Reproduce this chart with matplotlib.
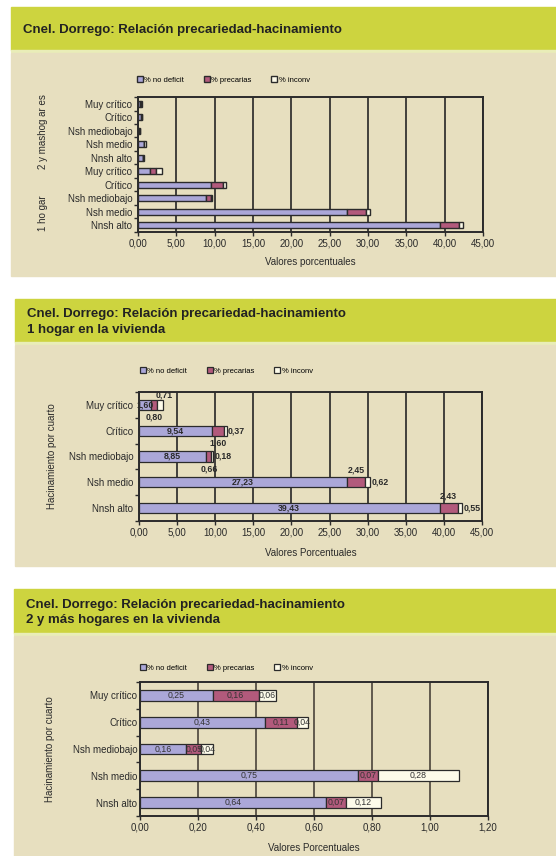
import matplotlib.pyplot as plt
from matplotlib.patches import Rectangle
from matplotlib.ticker import FixedLocator, FuncFormatter
import numpy as np

plt.rcParams['font.family'] = ['Liberation Sans', 'DejaVu Sans']

# datos
categorias = ["Muy crítico", "Crítico", "Nsh mediobajo", "Nsh medio", "Nnsh alto"]
series = ["% no deficit", "% precarias", "% inconv"]

# 1 hogar en la vivienda
uno_no_def = [1.60, 9.54, 8.85, 27.23, 39.43]
uno_prec = [0.80, 1.60, 0.66, 2.45, 2.43]
uno_inconv = [0.71, 0.37, 0.18, 0.62, 0.55]

# 2 y mas hogares en la vivienda
dos_no_def = [0.25, 0.43, 0.16, 0.75, 0.64]
dos_prec = [0.16, 0.11, 0.05, 0.07, 0.07]
dos_inconv = [0.06, 0.04, 0.04, 0.28, 0.12]

titulo = "Cnel. Dorrego: Relación precariedad-hacinamiento"

# colores
C_NODEF = "#aba7d8"
C_PREC = "#b25a7c"
C_INCONV = "#fdfbea"
C_BEIGE = "#e7dfbf"
C_VERDE = "#cdd43f"
C_EDGE = "#2b2b2b"

W, H = 556, 856
fig = plt.figure(figsize=(W / 100, H / 100), dpi=100)
fig.patch.set_facecolor("white")


def box(l, t, r, b):
    return [l / W, 1 - b / H, (r - l) / W, (b - t) / H]


def fondo(x0, top, mid, bottom, lineas):
    # banda verde del titulo + panel beige
    fig.patches.append(Rectangle((x0 / W, 1 - mid / H), 1 - x0 / W, (mid - top) / H,
                                 transform=fig.transFigure, color=C_VERDE, zorder=-10))
    fig.patches.append(Rectangle((x0 / W, 1 - (mid + 1.5) / H), 1 - x0 / W, 1.2 / H,
                                 transform=fig.transFigure, color="#e9edb8", zorder=-10))
    fig.patches.append(Rectangle((x0 / W, 1 - bottom / H), 1 - x0 / W, (bottom - mid - 3) / H,
                                 transform=fig.transFigure, color=C_BEIGE, zorder=-10))
    fig.text((x0 + 12) / W, 1 - ((top + mid) / 2 + 1.5) / H, lineas, ha="left", va="center",
             fontsize=9.5, fontweight="bold", color="#222222", linespacing=1.35)


def fmt(v):
    return f"{v:.2f}".replace(".", ",")


def barras(ax, nodef, prec, inconv, alto, lw=0.9):
    y = np.arange(len(nodef))
    nodef = np.array(nodef)
    prec = np.array(prec)
    inconv = np.array(inconv)
    b1 = ax.barh(y, nodef, height=alto, color=C_NODEF, edgecolor=C_EDGE, lw=lw, zorder=3)
    b2 = ax.barh(y, prec, left=nodef, height=alto, color=C_PREC, edgecolor=C_EDGE, lw=lw, zorder=3)
    b3 = ax.barh(y, inconv, left=nodef + prec, height=alto, color=C_INCONV, edgecolor=C_EDGE, lw=lw, zorder=3)
    return y, (b1, b2, b3)


def estilo_ejes(ax, xmax, paso, ylabels, grid_color, ypad=4):
    n = len(ylabels)
    ax.set_facecolor("none")
    ax.set_xlim(0, xmax)
    ax.set_ylim(n - 0.5, -0.5)
    ax.set_xticks(np.arange(0, xmax + paso / 2, paso))
    ax.xaxis.set_major_formatter(FuncFormatter(lambda v, _: fmt(v)))
    ax.set_yticks(np.arange(n))
    ax.set_yticklabels(ylabels)
    ax.yaxis.set_minor_locator(FixedLocator(np.arange(n + 1) - 0.5))
    ax.tick_params(axis="y", which="major", length=0, pad=ypad, labelsize=7, colors="#2a2a2a")
    ax.tick_params(axis="y", which="minor", length=3, width=1, color=C_EDGE)
    ax.tick_params(axis="x", length=3, width=1, color=C_EDGE, pad=2, labelsize=7, labelcolor="#2a2a2a")
    ax.set_axisbelow(True)
    ax.grid(axis="x", color=grid_color, lw=1.2, zorder=0)
    for s in ax.spines.values():
        s.set_linewidth(1.4)
        s.set_color(C_EDGE)


def leyenda(handles, x, y):
    fig.legend(handles, series, loc="center left", bbox_to_anchor=(x / W, 1 - y / H),
               ncol=3, frameon=False, fontsize=5.5, handlelength=0.75, handleheight=0.75,
               handletextpad=0.2, columnspacing=2.6, borderaxespad=0, borderpad=0)


# ---------------- Panel 1 ----------------
fondo(11, 7, 50, 276, titulo)
ax1 = fig.add_axes(box(138, 97, 483, 232))
etiquetas1 = categorias + categorias
y1, h1 = barras(ax1, dos_no_def + uno_no_def, dos_prec + uno_prec,
                dos_inconv + uno_inconv, 0.42, lw=1.0)
estilo_ejes(ax1, 45, 5, etiquetas1, "#262626")
ax1.set_xlabel("Valores porcentuales", fontsize=7, color="#2a2a2a", labelpad=6)
fig.text(43 / W, 1 - 132 / H, "2 y mashog ar es", rotation=90, ha="center", va="center",
         fontsize=7, color="#2a2a2a")
fig.text(43 / W, 1 - 213 / H, "1 ho gar", rotation=90, ha="center", va="center",
         fontsize=7, color="#2a2a2a")
leyenda(h1, 137, 80)

# ---------------- Panel 2 ----------------
fondo(15, 299, 342, 566, titulo + "\n1 hogar en la vivienda")
ax2 = fig.add_axes(box(139, 392, 482, 521))
y2, h2 = barras(ax2, uno_no_def, uno_prec, uno_inconv, 0.4)
estilo_ejes(ax2, 45, 5, categorias, "#262626")
ax2.set_xlabel("Valores Porcentuales", fontsize=7, color="#2a2a2a", labelpad=7)
ax2.set_ylabel("Hacinamiento por cuarto", fontsize=7, color="#2a2a2a", labelpad=10)
ax2.yaxis.set_label_coords(-0.24, 0.5)
leyenda(h2, 140, 371)

# ubicacion de etiquetas de precarias / inconv (como en el original)
pos_prec = ["below", "below", "below", "above", "above"]
pos_inc = ["above", "right", "right", "right", "right"]
kw = dict(fontsize=6.3, fontweight="bold", color="#2a2a2a", zorder=5)
for i in range(len(categorias)):
    a, b, c = uno_no_def[i], uno_prec[i], uno_inconv[i]
    ax2.annotate(fmt(a), (a / 2, y2[i]), ha="center", va="center", **kw)
    dy = -9 if pos_prec[i] == "below" else 9
    ax2.annotate(fmt(b), (a + b / 2, y2[i]), xytext=(0, dy), textcoords="offset points",
                 ha="center", va="center", **kw)
    if pos_inc[i] == "right":
        ax2.annotate(fmt(c), (a + b + c, y2[i]), xytext=(1, 0), textcoords="offset points",
                     ha="left", va="center", **kw)
    else:
        ax2.annotate(fmt(c), (a + b + c / 2, y2[i]), xytext=(3, 7), textcoords="offset points",
                     ha="center", va="center", **kw)

# ---------------- Panel 3 ----------------
fondo(14, 589, 633, 856, titulo + "\n2 y más hogares en la vivienda")
ax3 = fig.add_axes(box(140, 682, 488, 816))
y3, h3 = barras(ax3, dos_no_def, dos_prec, dos_inconv, 0.4)
estilo_ejes(ax3, 1.2, 0.2, categorias, "#4a443a", ypad=2)
ax3.set_xlabel("Valores Porcentuales", fontsize=7, color="#2a2a2a", labelpad=7)
ax3.set_ylabel("Hacinamiento por cuarto", fontsize=7, color="#2a2a2a", labelpad=10)
ax3.yaxis.set_label_coords(-0.245, 0.5)
leyenda(h3, 140, 668)

kw3 = dict(fontsize=6.3, color="#333333", zorder=5)
for i in range(len(categorias)):
    a, b, c = dos_no_def[i], dos_prec[i], dos_inconv[i]
    ax3.text(a / 2, y3[i], fmt(a), ha="center", va="center", **kw3)
    ax3.text(a + b / 2, y3[i], fmt(b), ha="center", va="center", **kw3)
    ax3.text(a + b + c / 2, y3[i], fmt(c), ha="center", va="center", **kw3)

fig.savefig("out.png", dpi=100)
